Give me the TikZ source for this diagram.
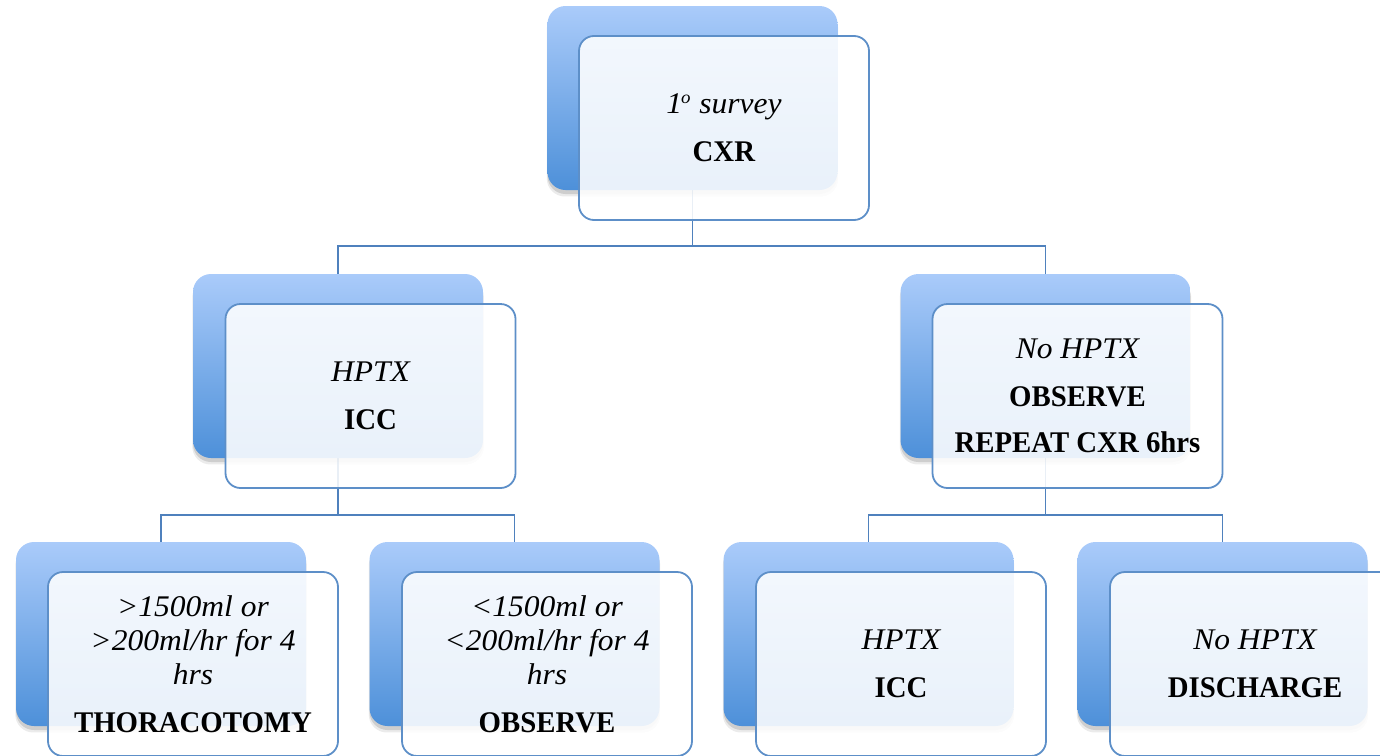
\documentclass[tikz,border=0pt]{standalone}
\usepackage{fontspec}
\setmainfont{Liberation Serif}[BoldFeatures={FakeStretch=0.96},ItalicFeatures={FakeStretch=1.05}]
\usetikzlibrary{shadows}
\definecolor{bluetop}{HTML}{AACBFA}
\definecolor{bluebot}{HTML}{4D90D9}
\definecolor{frontline}{HTML}{5D8FC8}
\definecolor{connline}{HTML}{4F81BD}
\tikzset{
  backbox/.style={rounded corners=9pt, top color=bluetop, bottom color=bluebot, draw=none,
    minimum width=145pt, minimum height=92pt, inner sep=0pt, outer sep=0pt,
    general shadow={shadow xshift=0pt, shadow yshift=-3pt, shadow scale=1.005, fill=black, opacity=0.08},
    general shadow={shadow xshift=0pt, shadow yshift=-2pt, fill=black, opacity=0.12}},
  anchorbox/.style={minimum width=145pt, minimum height=92pt, inner sep=0pt, outer sep=0pt},
  frontbox/.style={rounded corners=7.5pt, draw=frontline, line width=0.9pt, fill=white,
    fill opacity=0.88, text opacity=1, minimum width=145pt, minimum height=92pt,
    inner sep=0pt, outer sep=0pt, align=center, text=black,
    font=\fontsize{15}{17}\selectfont},
  conn/.style={draw=connline, line width=0.65pt}
}
\begin{document}
\begin{tikzpicture}[x=0.5pt,y=-0.5pt]
\useasboundingbox (0,0) rectangle (1380,755);
\clip (0,0) rectangle (1380,755);
\path
  (692.5,98) coordinate (c0)
  (338,366) coordinate (c1)
  (1045.5,366) coordinate (c2)
  (161,634) coordinate (c3)
  (514.5,634) coordinate (c4)
  (868.5,634) coordinate (c5)
  (1222.5,634) coordinate (c6);
\node[anchorbox] (b0) at (c0) {};
\node[anchorbox] (b1) at (c1) {};
\node[anchorbox] (b2) at (c2) {};
\node[anchorbox] (b3) at (c3) {};
\node[anchorbox] (b4) at (c4) {};
\node[anchorbox] (b5) at (c5) {};
\node[anchorbox] (b6) at (c6) {};
% connectors
\draw[conn] (b0.south) -- ++(0,56) -| (b1.north);
\draw[conn] (b0.south) -- ++(0,56) -| (b2.north);
\draw[conn] (b1.south) -- ++(0,57) -| (b3.north);
\draw[conn] (b1.south) -- ++(0,57) -| (b4.north);
\draw[conn] (b2.south) -- ++(0,57) -| (b5.north);
\draw[conn] (b2.south) -- ++(0,57) -| (b6.north);
% back shapes
\foreach \c in {c0,c1,c2,c3,c4,c5,c6}
  \node[backbox] at (\c) {};
% front boxes
\node[frontbox] (f0) at (724,128) {{\itshape 1\textsuperscript{\kern-0.5pt\fontsize{9}{9}\selectfont o} survey}\\[7pt]\textbf{CXR}};
\node[frontbox] (f1) at (370.5,396) {{\itshape HPTX}\\[7pt]\textbf{ICC}};
\node[frontbox] (f2) at (1077.5,396) {{\itshape No HPTX}\\[7pt]\textbf{OBSERVE}\\[6pt]\textbf{REPEAT CXR 6hrs}};
\node[frontbox] (f3) at (193,664) {{\itshape >1500ml or}\\{\itshape >200ml/hr for 4}\\{\itshape hrs}\\[7pt]\textbf{THORACOTOMY}};
\node[frontbox] (f4) at (547,664) {{\itshape <1500ml or}\\{\itshape <200ml/hr for 4}\\{\itshape hrs}\\[7pt]\textbf{OBSERVE}};
\node[frontbox] (f5) at (901,664) {{\itshape HPTX}\\[7pt]\textbf{ICC}};
\node[frontbox] (f6) at (1255,664) {{\itshape No HPTX}\\[7pt]\textbf{DISCHARGE}};
\end{tikzpicture}
\end{document}
